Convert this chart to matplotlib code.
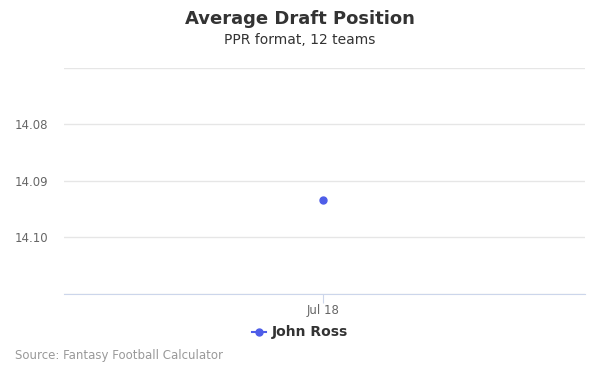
import matplotlib
matplotlib.use("Agg")
import matplotlib.pyplot as plt

dates = ["Jul 18"]
adp = [14.0933]
player = "John Ross"
yticks = [14.07, 14.08, 14.09, 14.10, 14.11]
ylabels = ["", "14.08", "14.09", "14.10", ""]

fig = plt.figure(figsize=(6, 3.75), dpi=100)
ax = fig.add_axes([64/600, 1-294/375, (585-64)/600, (294-68)/375])

x = list(range(len(dates)))
ax.plot(x, adp, color="#4e5de8", marker="o", markersize=5, linewidth=1.5, zorder=3)
ax.set_xlim(-0.994, 1.006)
ax.set_ylim(14.11, 14.07)
ax.set_yticks(yticks)
ax.set_yticklabels(ylabels)
ax.set_xticks(x)
ax.set_xticklabels(dates)
ax.grid(axis="y", color="#e6e6e6", linewidth=1)
ax.set_axisbelow(True)
for s in ["top", "right", "left"]:
    ax.spines[s].set_visible(False)
ax.spines["bottom"].set_color("#ccd6eb")
ax.tick_params(axis="y", length=0, labelsize=8.5, labelcolor="#666666", pad=11.4)
ax.tick_params(axis="x", length=6.5, color="#ccd6eb", labelsize=8.5, labelcolor="#666666", pad=0.5)

fig.text(0.5, 1-19/375, "Average Draft Position", ha="center", va="center",
         fontsize=13, fontweight="bold", color="#333333")
fig.text(0.5, 1-40/375, "PPR format, 12 teams", ha="center", va="center",
         fontsize=10, color="#333333")

# legend
fig.lines.append(plt.Line2D([252/600, 266/600], [1-332/375, 1-332/375], color="#4e5de8",
                            linewidth=1.5, transform=fig.transFigure))
fig.lines.append(plt.Line2D([259/600], [1-332/375], color="#4e5de8", marker="o",
                            markersize=5, transform=fig.transFigure))
fig.text(272/600, 1-332/375, player, ha="left", va="center", fontsize=10,
         fontweight="bold", color="#333333")

fig.text(15/600, 1-356/375, "Source: Fantasy Football Calculator", ha="left", va="center",
         fontsize=8.5, color="#999999")

fig.savefig("out.png", dpi=100)
